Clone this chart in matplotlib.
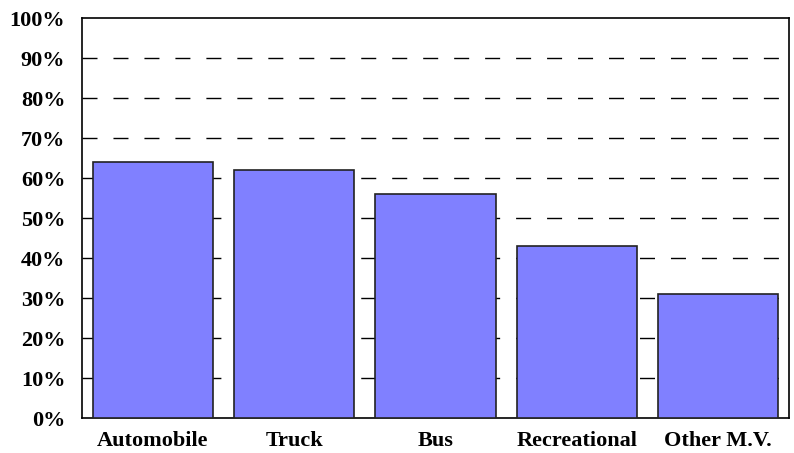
import matplotlib.pyplot as plt
from matplotlib.ticker import FuncFormatter

categories = ['Automobile', 'Truck', 'Bus', 'Recreational', 'Other M.V.']
shares = [64, 62, 56, 43, 31]
y_ticks = list(range(0, 101, 10))

plt.rcParams['font.family'] = ['Liberation Serif', 'DejaVu Serif']
plt.rcParams['font.weight'] = 'bold'

fig = plt.figure(figsize=(7.94, 4.53), dpi=100)
ax = fig.add_axes([82 / 794, 1 - 418 / 453, 707 / 794, 400 / 453])

x = range(len(categories))
ax.bar(x, shares, width=0.85, color='#8080FF', edgecolor='#222222',
       linewidth=1.2, zorder=3)

# dashed grid behind the bars
for v in y_ticks[1:-1]:
    ax.axhline(v, color='black', linewidth=1.0, linestyle=(0, (10.8, 11.5)),
               zorder=1)

ax.set_xlim(-0.5, len(categories) - 0.5)
ax.set_ylim(0, 100)
ax.set_yticks(y_ticks)
ax.yaxis.set_major_formatter(FuncFormatter(lambda v, p: f'{int(v)}%'))
ax.set_xticks(list(x))
ax.set_xticklabels(categories)
ax.tick_params(axis='both', length=0, labelsize=16)
ax.tick_params(axis='y', pad=12)
ax.tick_params(axis='x', pad=9)

for s in ax.spines.values():
    s.set_linewidth(1.2)
    s.set_color('black')

fig.savefig('out.png', dpi=100)
